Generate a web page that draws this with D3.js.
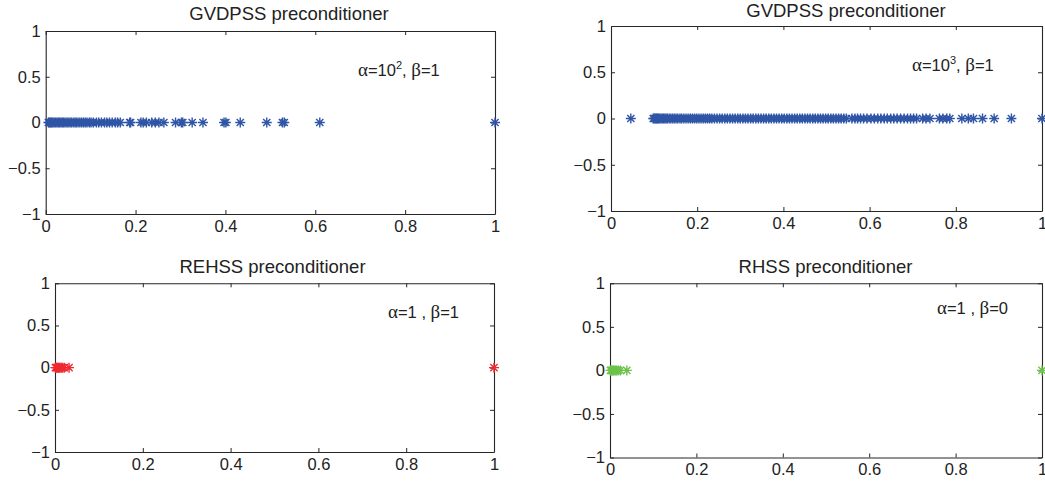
<!DOCTYPE html>
<html>
<head>
<meta charset="utf-8">
<script src="https://cdn.jsdelivr.net/npm/d3@7"></script>
<style>
  body { margin: 0; background: #fff; }
  svg { display: block; }
  text { font-family: "Liberation Sans", Arial, sans-serif; fill: #222; }
</style>
</head>
<body>
<div id="d3-container"></div>
<script>
// CONSTANTS AND GLOBALS
const width = 1045,
  height = 482,
  starR = 5;

const eigGvdpss2 = [0.006, 0.008, 0.010, 0.012, 0.014, 0.016, 0.019, 0.022, 0.025, 0.028,
  0.031, 0.034, 0.037, 0.040, 0.043, 0.047, 0.050, 0.054, 0.057, 0.061, 0.065, 0.068,
  0.072, 0.076, 0.080, 0.084, 0.088, 0.092, 0.097, 0.101, 0.106, 0.113, 0.118, 0.124,
  0.131, 0.136, 0.142, 0.148, 0.155, 0.160, 0.166, 0.187, 0.189, 0.212, 0.217, 0.224,
  0.236, 0.244, 0.252, 0.263, 0.289, 0.302, 0.305, 0.326, 0.350, 0.397, 0.401, 0.433,
  0.492, 0.527, 0.531, 0.610, 1.0];

const eigGvdpss3 = [0.046, 0.098, 0.100, 0.102, 0.104, 0.106, 0.108, 0.110, 0.113, 0.116,
  0.119, 0.122, 0.125, 0.128, 0.131, 0.135, 0.139, 0.143, 0.147, 0.151, 0.155, 0.160,
  0.164, 0.169, 0.174, 0.179, 0.184, 0.189, 0.194, 0.199, 0.204, 0.209, 0.214, 0.219,
  0.224, 0.229, 0.234, 0.240, 0.246, 0.252, 0.258, 0.264, 0.270, 0.276, 0.282, 0.288,
  0.294, 0.300, 0.306, 0.312, 0.318, 0.324, 0.330, 0.336, 0.342, 0.348, 0.354, 0.360,
  0.366, 0.372, 0.378, 0.384, 0.390, 0.396, 0.402, 0.408, 0.414, 0.420, 0.426, 0.432,
  0.438, 0.444, 0.450, 0.456, 0.462, 0.468, 0.474, 0.480, 0.486, 0.492, 0.498, 0.504,
  0.510, 0.516, 0.522, 0.528, 0.534, 0.540, 0.546, 0.559, 0.566, 0.572, 0.579, 0.586,
  0.594, 0.603, 0.611, 0.619, 0.626, 0.634, 0.641, 0.649, 0.656, 0.664, 0.672, 0.680,
  0.688, 0.695, 0.702, 0.709, 0.723, 0.731, 0.740, 0.762, 0.770, 0.779, 0.786, 0.814,
  0.829, 0.841, 0.862, 0.889, 0.929, 1.0];

const eigRehss = [0.001, 0.003, 0.005, 0.007, 0.009, 0.011, 0.014, 0.017, 0.021, 0.032, 1.0];

const eigRhss = [0.001, 0.003, 0.005, 0.007, 0.009, 0.012, 0.015, 0.019, 0.024, 0.039, 1.0];

const xTicks = [0, 0.2, 0.4, 0.6, 0.8, 1];
const yTicks = [-1, -0.5, 0, 0.5, 1];

const titles = ["GVDPSS preconditioner", "GVDPSS preconditioner", "REHSS preconditioner", "RHSS preconditioner"];
const alphaLabels = ["10", "10", "1 ", "1 "];
const alphaExps = ["2", "3", "", ""];
const betaLabels = ["1", "1", "1", "0"];
const colors = ["#2f55a6", "#2f55a6", "#ee2a30", "#6cc24a"];

// panel boxes, in page pixels
const boxes = [
  { left: 45.7, right: 495, top: 31, bottom: 214, titleX: 289, titleY: 20, noteX: 358, noteY: 76 },
  { left: 611, right: 1042, top: 26, bottom: 211, titleX: 846, titleY: 16.5, noteX: 912, noteY: 71 },
  { left: 55, right: 494, top: 283.3, bottom: 452, titleX: 272.5, titleY: 273, noteX: 388, noteY: 318 },
  { left: 610, right: 1042, top: 283.3, bottom: 457.5, titleX: 825.5, titleY: 273, noteX: 937, noteY: 314 }
];

const eigSets = [eigGvdpss2, eigGvdpss3, eigRehss, eigRhss];

let svg;

function starPath(r) {
  const d = r * 0.72;
  return `M${-r},0H${r}M0,${-r}V${r}M${-d},${-d}L${d},${d}M${-d},${d}L${d},${-d}`;
}

function init() {
  svg = d3.select("#d3-container")
    .append("svg")
    .attr("width", width)
    .attr("height", height);

  boxes.forEach((b, i) => drawPanel(b, i));
}

function drawPanel(b, i) {
  const xScale = d3.scaleLinear().domain([0, 1]).range([b.left, b.right]);
  const yScale = d3.scaleLinear().domain([-1, 1]).range([b.bottom, b.top]);
  const numFormat = d3.format("");

  const g = svg.append("g");

  // axes, ticks point inward like matlab
  const styleAxis = sel => {
    sel.selectAll(".domain").attr("stroke", "#262626").attr("stroke-width", 1.1);
    sel.selectAll(".tick line").attr("stroke", "#262626");
    sel.selectAll("text").attr("font-size", 16.5).attr("fill", "#222")
      .attr("font-family", "'Liberation Sans', Arial, sans-serif");
  };

  g.append("g")
    .attr("transform", `translate(0,${b.bottom})`)
    .call(d3.axisBottom(xScale).tickValues(xTicks).tickFormat(numFormat).tickSize(-4).tickSizeOuter(0).tickPadding(6))
    .call(styleAxis);

  g.append("g")
    .attr("transform", `translate(0,${b.top})`)
    .call(d3.axisTop(xScale).tickValues(xTicks).tickFormat("").tickSize(-4).tickSizeOuter(0))
    .call(styleAxis);

  g.append("g")
    .attr("transform", `translate(${b.left},0)`)
    .call(d3.axisLeft(yScale).tickValues(yTicks).tickFormat(numFormat).tickSize(-4).tickSizeOuter(0).tickPadding(5))
    .call(styleAxis);

  g.append("g")
    .attr("transform", `translate(${b.right},0)`)
    .call(d3.axisRight(yScale).tickValues(yTicks).tickFormat("").tickSize(-4).tickSizeOuter(0))
    .call(styleAxis);

  // eigenvalue stars
  g.append("g")
    .selectAll("path")
    .data(eigSets[i])
    .join("path")
    .attr("transform", d => `translate(${xScale(d)},${yScale(0)})`)
    .attr("d", starPath(starR))
    .attr("fill", "none")
    .attr("stroke", colors[i])
    .attr("stroke-width", 1.4);

  // title
  g.append("text")
    .attr("x", b.titleX)
    .attr("y", b.titleY)
    .attr("text-anchor", "middle")
    .attr("font-size", 18.5)
    .text(titles[i]);

  // parameter note
  const note = g.append("text")
    .attr("x", b.noteX)
    .attr("y", b.noteY)
    .attr("font-size", 16.5);
  note.append("tspan").attr("font-family", "'Liberation Serif', serif").attr("font-size", 19).text("α");
  note.append("tspan").text("=" + alphaLabels[i]);
  if (alphaExps[i]) {
    note.append("tspan").attr("font-size", 11).attr("dy", -7).text(alphaExps[i]);
    note.append("tspan").attr("dy", 7).text(", ");
  } else {
    note.append("tspan").text(", ");
  }
  note.append("tspan").attr("font-family", "'Liberation Serif', serif").attr("font-size", 19).text("β");
  note.append("tspan").text("=" + betaLabels[i]);
}

init();
</script>
</body>
</html>
